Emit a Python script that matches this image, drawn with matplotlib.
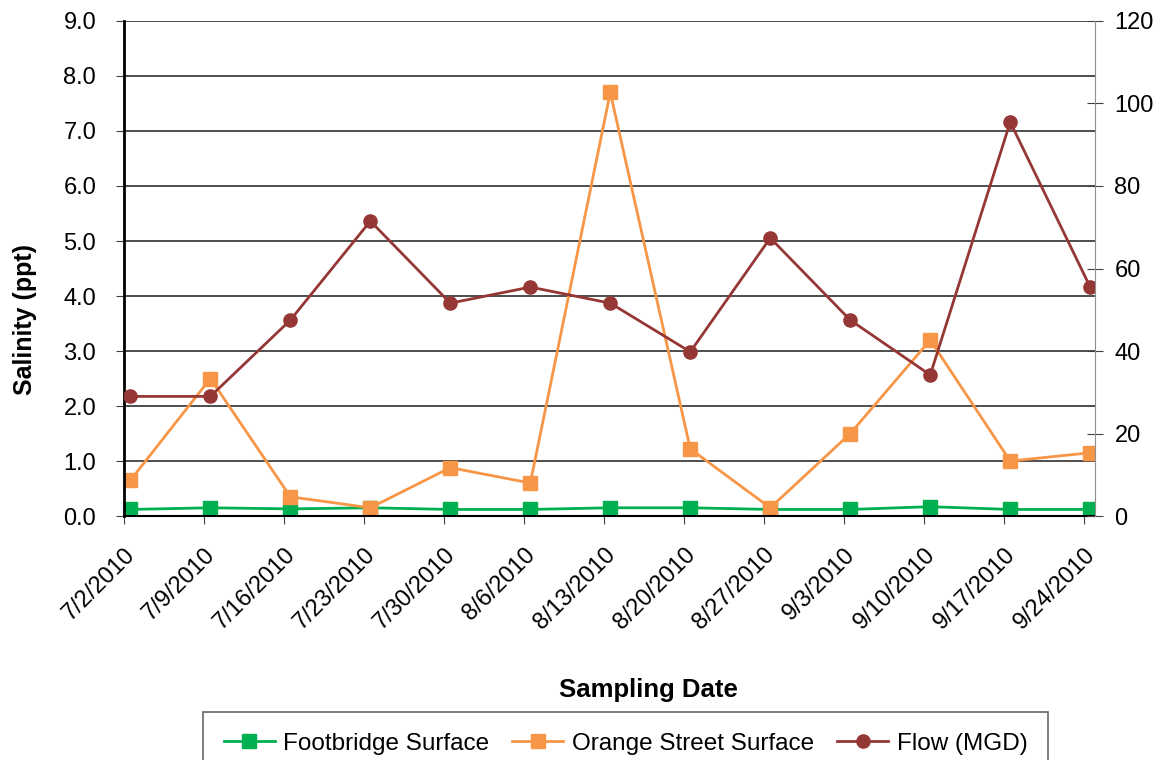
import numpy as np
import matplotlib.pyplot as plt

plt.rcParams['font.family'] = ['Liberation Sans', 'DejaVu Sans']

dates = ['7/2/2010', '7/9/2010', '7/16/2010', '7/23/2010', '7/30/2010', '8/6/2010',
         '8/13/2010', '8/20/2010', '8/27/2010', '9/3/2010', '9/10/2010', '9/17/2010',
         '9/24/2010']
footbridge = [0.12, 0.15, 0.13, 0.15, 0.12, 0.12, 0.15, 0.15, 0.12, 0.12, 0.17, 0.12, 0.12]
orange_st = [0.65, 2.5, 0.35, 0.15, 0.88, 0.6, 7.7, 1.22, 0.15, 1.5, 3.2, 1.0, 1.15]
flow_mgd = [29, 29, 47.5, 71.5, 51.6, 55.5, 51.6, 39.8, 67.4, 47.5, 34.2, 95.5, 55.5]

green = '#00B050'
orange = '#F79646'
brown = '#953735'

fig = plt.figure(figsize=(11.72, 7.6), dpi=100)
ax = fig.add_axes([0.1058, 0.321, 0.8285, 0.6514])
x = np.arange(len(dates))

l1, = ax.plot(x, footbridge, color=green, lw=2, marker='s', ms=10, label='Footbridge Surface')
l2, = ax.plot(x, orange_st, color=orange, lw=2, marker='s', ms=10, label='Orange Street Surface')

ax.set_ylim(0, 9)
ax.set_yticks(np.arange(0, 9.1, 1))
ax.set_yticklabels([f'{v:.1f}' for v in np.arange(0, 9.1, 1)])
ax.set_xlim(-0.08, 12.06)
ax.set_xticks(x - 0.08)
ax.set_xticklabels(dates, rotation=45, ha='right', rotation_mode='anchor')
ax.grid(axis='y', color='#404040', lw=1.3)
ax.set_axisbelow(True)
for side in ['top', 'right']:
    ax.spines[side].set_visible(False)
ax.spines['left'].set_linewidth(2)
ax.spines['bottom'].set_linewidth(1.5)
ax.tick_params(axis='both', labelsize=17, color='#404040', length=6)
ax.tick_params(axis='x', pad=14)
ax.tick_params(axis='y', pad=14)
ax.set_ylabel('Salinity (ppt)', fontsize=18, fontweight='bold')
ax.yaxis.set_label_coords(-0.09, 0.396)
ax.set_xlabel('Sampling Date', fontsize=18.5, fontweight='bold')
ax.xaxis.set_label_coords(0.54, -0.327)

# flow goes on its own right-hand axis
ax2 = ax.twinx()
l3, = ax2.plot(x, flow_mgd, color=brown, lw=2, marker='o', ms=9.5, label='Flow (MGD)')
ax2.set_ylim(0, 120)
ax2.set_yticks(np.arange(0, 121, 20))
for side in ['top', 'left', 'bottom']:
    ax2.spines[side].set_visible(False)
ax2.spines['right'].set_color('#909090')
ax2.tick_params(axis='y', labelsize=17, color='#404040', length=12, direction='inout', pad=8)

leg = fig.legend(handles=[l1, l2, l3], loc='upper left',
                 bbox_to_anchor=(203 / 1172, 1 - 712 / 760), ncol=3,
                 fontsize=17.5, frameon=True, fancybox=False, edgecolor='#404040',
                 handlelength=2.1, handletextpad=0.35, columnspacing=0.95,
                 borderpad=0.85, borderaxespad=0)
leg.get_frame().set_linewidth(1.2)

fig.savefig('out.png', dpi=100)
